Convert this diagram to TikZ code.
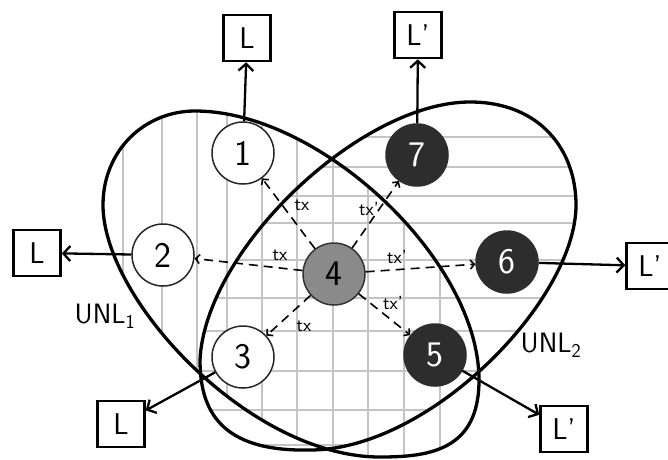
\documentclass[tikz,border=0pt]{standalone}
\usetikzlibrary{arrows.meta}
\definecolor{darkfill}{HTML}{2D2D2D}
\definecolor{grayfill}{HTML}{8A8A8A}
\definecolor{gridgray}{HTML}{C4C4C4}
\begin{document}
\begin{tikzpicture}[x=1pt,y=-1pt,
  wnode/.style={circle,draw=black!85,line width=1.5pt,fill=white,minimum size=62pt,inner sep=0pt,font=\sffamily\fontsize{36}{36}\selectfont},
  dnode/.style={wnode,fill=darkfill,draw=darkfill,text=white},
  gnode/.style={wnode,fill=grayfill,draw=black!80},
  lbox/.style={rectangle,draw=black,line width=2.5pt,fill=white,minimum width=47pt,minimum height=46pt,inner sep=0pt,font=\sffamily\fontsize{30}{30}\selectfont},
  outarrow/.style={line width=2.3pt,-{Straight Barb[length=7pt,width=15pt]}},
  txarrow/.style={line width=1.6pt,dash pattern=on 9pt off 6pt,-{Straight Barb[length=4pt,width=9pt]}},
  txlabel/.style={font=\sffamily\fontsize{19}{19}\selectfont,inner sep=1pt},
  unl/.style={font=\sffamily\fontsize{28}{28}\selectfont},
  ellipseline/.style={line width=3.3pt,black,line join=round}
]
\useasboundingbox (0,0) rectangle (668,459);
\def\ellA{(103,205) .. controls (103,150) and (145,111) .. (195,111) .. controls (320,111) and (479,260) .. (479,380) .. controls (479,450) and (430,457) .. (380,457) .. controls (250,457) and (103,300) .. (103,205) -- cycle}
\def\ellB{(200,360) .. controls (205,250) and (360,102) .. (470,102) .. controls (540,102) and (576,150) .. (576,205) .. controls (576,300) and (430,450) .. (310,450) .. controls (220,452) and (200,410) .. (200,360) -- cycle}
% grids
\begin{scope}
  \clip \ellA;
  \foreach \x in {123,162,197,227,262,297,333,368,404,440}
    \draw[gridgray,line width=2pt] (\x,90) -- (\x,470);
\end{scope}
\begin{scope}
  \clip \ellB;
  \foreach \y in {137,167,196,223,260,298,331,371,410,445}
    \draw[gridgray,line width=2pt] (180,\y) -- (600,\y);
\end{scope}
% ellipses
\draw[ellipseline] \ellA;
\draw[ellipseline] \ellB;
% labels
\node[unl] (u1) at (105,316) {UNL\textsubscript{1}};
\node[unl] (u2) at (551,345) {UNL\textsubscript{2}};
% nodes
\node[wnode] (n1) at (243,153) {1};
\node[wnode] (n2) at (163,255) {2};
\node[wnode] (n3) at (243,357) {3};
\node[gnode] (n4) at (334,274) {4};
\node[dnode] (n7) at (417,155) {7};
\node[dnode] (n6) at (507,262) {6};
\node[dnode] (n5) at (435,355) {5};
% boxes
\node[lbox] (b1) at (247,38) {L};
\node[lbox] (b7) at (418,35) {L'};
\node[lbox] (b2) at (37,253) {L};
\node[lbox] (b3) at (121,424) {L};
\node[lbox] (b6) at (650,266) {L'};
\node[lbox] (b5) at (564,429) {L'};
% output arrows
\draw[outarrow] (n1) -- (b1);
\draw[outarrow] (n7) -- (b7);
\draw[outarrow] (n2) -- (b2);
\draw[outarrow] (n3) -- (b3);
\draw[outarrow] (n6) -- (b6);
\draw[outarrow] (n5) -- (b5);
% tx arrows
\draw[txarrow] (n4) -- (n1);
\draw[txarrow] (n4) -- (n2);
\draw[txarrow] (n4) -- (n3);
\draw[txarrow] (n4) -- (n7);
\draw[txarrow] (n4) -- (n6);
\draw[txarrow] (n4) -- (n5);
\node[txlabel] (t1) at (302,205) {tx};
\node[txlabel] (t2) at (280,255) {tx};
\node[txlabel] (t3) at (304,326) {tx};
\node[txlabel] (t7) at (369,209) {tx'};
\node[txlabel] (t6) at (397,257) {tx'};
\node[txlabel] (t5) at (393,303) {tx'};
\end{tikzpicture}
\end{document}
